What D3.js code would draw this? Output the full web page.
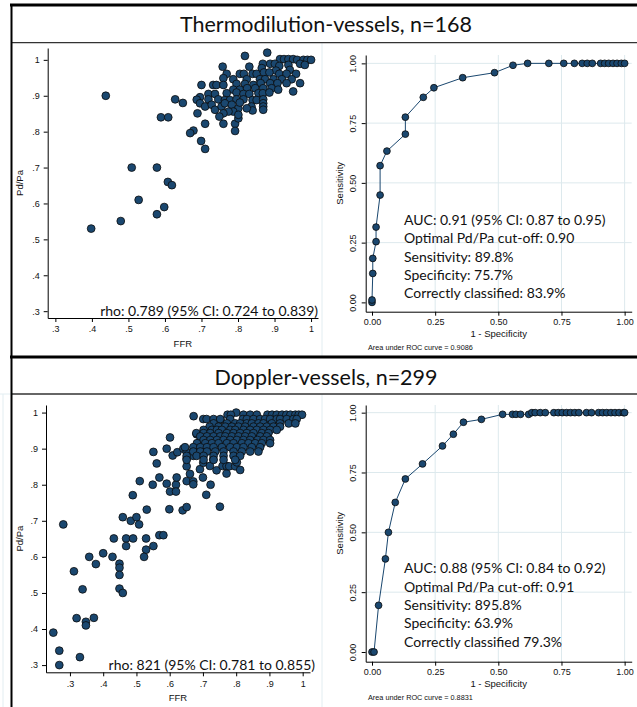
<!DOCTYPE html>
<html>
<head>
<meta charset="utf-8">
<script src="https://cdn.jsdelivr.net/npm/d3@7"></script>
<style>
  html, body { margin: 0; padding: 0; background: #fff; }
  svg { display: block; }
  .tick text { font-family: "Liberation Sans", Arial, sans-serif; font-size: 9px; fill: #111; }
  .axis-title { font-family: "Liberation Sans", Arial, sans-serif; font-size: 9.5px; fill: #111; }
  .note { font-family: Lato, "Open Sans", sans-serif; font-size: 14px; fill: #111; }
  .head { font-family: Lato, "Open Sans", sans-serif; font-size: 21.5px; fill: #111; }
</style>
</head>
<body>
<svg id="chart" width="637" height="707"></svg>
<script>
// ---- Thermodilution cohort: FFR vs Pd/Pa ----
const thermoFFR = [
  0.398,0.438,0.479,0.509,0.528,0.578,0.578,0.598,0.608,0.619,0.589,0.609,0.628,0.649,0.699,0.710,
  0.819,0.880,0.758,
  0.915,0.926,0.938,0.951,0.962,0.979,0.990,1.000,
  0.868,0.888,0.901,0.913,0.938,0.970,
  0.831,0.865,0.904,0.942,0.983,
  0.769,0.805,0.816,0.840,0.851,0.871,0.886,0.913,0.933,0.959,
  0.760,0.787,0.824,0.860,0.874,0.897,0.920,0.947,
  0.862,0.888,0.908,0.933,0.970,
  0.700,0.732,0.741,0.760,0.796,0.819,0.842,
  0.787,0.805,0.825,0.847,0.869,0.892,0.910,0.951,
  0.719,0.737,0.769,0.796,0.815,0.831,0.856,0.868,0.886,
  0.696,0.719,0.746,0.764,0.778,0.796,0.815,0.840,0.851,0.869,0.869,0.869,0.869,
  0.687,0.696,0.710,0.728,0.737,0.755,0.764,0.783,0.801,0.787,0.774,0.760,0.749,0.805,0.837,0.840,0.824,
  0.689,0.710,0.760,0.792,0.792,0.801,0.801,
  0.678,0.669
];
const thermoPdPa = [
  0.530,0.900,0.551,0.700,0.610,0.700,0.570,0.590,0.660,0.651,0.840,0.840,0.890,0.880,0.774,0.752,
  1.011,1.020,0.981,
  1.002,1.002,1.002,1.002,1.000,1.000,1.000,1.000,
  0.989,0.989,0.989,0.983,0.986,0.989,
  0.981,0.977,0.970,0.972,0.986,
  0.961,0.961,0.961,0.961,0.961,0.965,0.965,0.961,0.961,0.961,
  0.949,0.946,0.946,0.946,0.946,0.946,0.946,0.946,
  0.935,0.935,0.935,0.935,0.935,
  0.930,0.930,0.930,0.930,0.933,0.933,0.930,
  0.917,0.917,0.921,0.921,0.921,0.921,0.917,0.912,
  0.905,0.905,0.907,0.909,0.905,0.905,0.907,0.907,0.909,
  0.896,0.890,0.890,0.888,0.888,0.890,0.890,0.888,0.888,0.890,0.879,0.870,0.861,
  0.889,0.879,0.870,0.875,0.861,0.870,0.879,0.875,0.865,0.856,0.856,0.851,0.842,0.881,0.870,0.859,0.865,
  0.851,0.822,0.822,0.822,0.802,0.837,0.847,
  0.803,0.796
];

// ---- Doppler cohort: FFR vs Pd/Pa ----
const dopplerFFR = [
  0.250,0.268,0.268,0.280,0.330,0.312,0.338,0.320,0.348,0.348,0.372,0.358,0.378,0.400,0.428,0.432,
  0.449,0.449,0.449,0.449,0.459,0.459,0.469,0.469,0.483,0.490,0.489,0.500,0.508,0.510,0.529,0.529,
  0.531,0.523,0.551,0.549,0.551,0.561,0.569,0.569,0.581,0.591,0.591,0.599,0.601,0.601,0.609,0.619,
  0.619,0.621,0.623,0.639,0.641,0.651,0.651,0.651,0.651,0.651,0.661,0.671,0.671,0.672,0.671,0.681,
  0.691,0.691,0.690,0.700,0.701,0.701,0.711,0.710,0.721,0.723,0.731,0.741,0.751,0.753,0.759,0.771,
  0.771,0.779,0.797,0.802,0.812,
  0.800,0.774,0.784,0.822,0.842,0.862,0.894,0.908,0.922,0.938,0.951,0.963,0.978,0.988,0.998,
  0.732,0.752,0.782,0.820,0.832,0.852,0.872,0.887,0.902,0.922,0.932,0.952,0.972,0.982,
  0.732,0.772,0.797,0.812,0.832,0.847,0.867,0.882,0.907,0.932,0.958,0.978,
  0.720,0.747,0.767,0.787,0.807,0.827,0.852,0.872,0.892,0.912,0.932,
  0.702,0.727,0.742,0.757,0.782,0.797,0.822,0.842,0.862,0.882,0.902,0.922,
  0.680,0.702,0.722,0.747,0.772,0.792,0.812,0.832,0.852,0.877,0.897,
  0.692,0.712,0.732,0.752,0.767,0.787,0.807,0.827,0.847,0.872,0.892,
  0.702,0.722,0.742,0.762,0.782,0.802,0.822,0.842,0.864,0.882,0.902,
  0.682,0.707,0.727,0.747,0.772,0.792,0.817,0.837,0.857,0.877,0.902,
  0.646,0.671,0.692,0.712,0.732,0.757,0.782,0.802,0.822,0.847,0.872,
  0.671,0.692,0.712,0.737,0.762,0.792,0.817,0.842,0.867,
  0.651,0.681,0.702,0.732,0.762,0.792,0.812,
  0.651,0.702,0.732,0.762,0.797
];
const dopplerPdPa = [
  0.390,0.340,0.300,0.690,0.322,0.560,0.510,0.430,0.420,0.410,0.431,0.600,0.580,0.610,0.600,0.651,
  0.581,0.570,0.550,0.512,0.500,0.710,0.651,0.630,0.700,0.651,0.771,0.710,0.690,0.810,0.651,0.620,
  0.731,0.600,0.630,0.800,0.891,0.859,0.820,0.660,0.660,0.900,0.803,0.732,0.781,0.931,0.881,0.800,
  0.781,0.820,0.890,0.729,0.900,0.738,0.890,0.873,0.851,0.810,0.830,0.809,0.801,0.990,0.880,0.940,
  0.843,0.920,0.890,0.820,0.861,0.982,0.982,0.772,0.852,0.800,0.870,0.840,0.739,0.980,0.852,0.831,
  0.852,0.851,0.851,0.862,0.841,
  1.000,0.994,0.994,0.994,0.994,0.994,0.994,0.994,0.994,0.994,0.994,0.994,0.994,0.994,0.994,
  0.982,0.982,0.982,0.982,0.982,0.982,0.982,0.982,0.982,0.982,0.982,0.982,0.982,0.982,
  0.970,0.970,0.970,0.970,0.970,0.970,0.970,0.970,0.970,0.970,0.970,0.970,
  0.961,0.961,0.961,0.961,0.961,0.961,0.961,0.961,0.961,0.961,0.961,
  0.952,0.952,0.952,0.952,0.952,0.952,0.952,0.952,0.952,0.952,0.952,0.952,
  0.943,0.943,0.943,0.943,0.943,0.943,0.943,0.943,0.943,0.943,0.943,
  0.934,0.934,0.934,0.934,0.934,0.934,0.934,0.934,0.934,0.934,0.934,
  0.924,0.924,0.924,0.924,0.924,0.924,0.924,0.924,0.924,0.924,0.924,
  0.915,0.915,0.915,0.915,0.915,0.915,0.915,0.915,0.915,0.915,0.915,
  0.904,0.904,0.904,0.904,0.904,0.904,0.904,0.904,0.904,0.904,0.904,
  0.892,0.892,0.892,0.892,0.892,0.892,0.892,0.892,0.892,
  0.880,0.880,0.880,0.880,0.880,0.880,0.880,
  0.869,0.869,0.869,0.869,0.869
];

// ---- ROC curves (1 - specificity, sensitivity) ----
const thermoRocFpr = [0,0,0.003,0.003,0.016,0.016,0.032,0.032,0.059,0.132,0.132,0.203,0.245,0.359,0.485,0.558,
  0.616,0.700,0.759,0.801,0.832,0.852,0.872,0.905,0.921,0.937,0.954,0.970,0.987,1];
const thermoRocTpr = [0,0.010,0.121,0.184,0.254,0.315,0.449,0.572,0.633,0.704,0.775,0.858,0.898,0.940,0.961,0.992,
  1,1,1,1,1,1,1,1,1,1,1,1,1,1];
const dopplerRocFpr = [0,0.008,0.026,0.053,0.065,0.092,0.132,0.200,0.279,0.322,0.362,0.433,0.517,0.556,0.570,0.588,0.620,
  0.633,0.646,0.666,0.686,0.720,0.737,0.753,0.770,0.786,0.803,0.819,0.849,0.869,0.897,0.913,0.929,0.946,0.962,0.978,0.995,1];
const dopplerRocTpr = [0,0,0.195,0.389,0.500,0.625,0.723,0.786,0.861,0.910,0.960,0.972,0.993,0.993,0.993,0.993,0.993,
  1,1,1,1,1,1,1,1,1,1,1,1,1,1,1,1,1,1,1,1,1];

// ---- Tick labels and texts ----
const scatterTicks = [0.3,0.4,0.5,0.6,0.7,0.8,0.9,1];
const rocTicks = [0,0.25,0.5,0.75,1];
const thermoTitle = "Thermodilution-vessels, n=168";
const dopplerTitle = "Doppler-vessels, n=299";
const thermoRho = "rho: 0.789 (95% CI: 0.724 to 0.839)";
const dopplerRho = "rho: 821 (95% CI: 0.781 to 0.855)";
const thermoRocNotes = ["AUC: 0.91 (95% CI: 0.87 to 0.95)", "Optimal Pd/Pa cut-off: 0.90",
  "Sensitivity: 89.8%", "Specificity: 75.7%", "Correctly classified: 83.9%"];
const dopplerRocNotes = ["AUC: 0.88 (95% CI: 0.84 to 0.92)", "Optimal Pd/Pa cut-off: 0.91",
  "Sensitivity: 895.8%", "Specificity: 63.9%", "Correctly classified 79.3%"];
const thermoAuc = "Area under ROC curve = 0.9086";
const dopplerAuc = "Area under ROC curve = 0.8831";

const NAVY = "#1a476f";
const svg = d3.select("#chart");
const fmtScatter = d => d === 1 ? "1" : d3.format(".1f")(d).replace(/^0/, "");
const fmtRoc = d3.format(".2f");

// faint frame lines of the individual graph regions
const faint = svg.append("g").attr("stroke", "#e2edf1").attr("stroke-width", 1);
[[322,43,322,356],[322,356,322,366],[322,366,637,366],[322,394,322,707],[3,394,3,707],[0,394,11,394]]
  .forEach(([x1,y1,x2,y2]) => faint.append("line").attr("x1",x1).attr("y1",y1).attr("x2",x2).attr("y2",y2));

function styleAxis(g) {
  g.select(".domain").attr("stroke", "#000").attr("stroke-width", 1);
  g.selectAll(".tick line").attr("stroke", "#000").attr("stroke-width", 1);
}

function scatterPanel(cfg) {
  const x = d3.scaleLinear().domain(cfg.xDomain).range([cfg.left, cfg.right]);
  const y = d3.scaleLinear().domain(cfg.yDomain).range([cfg.bottom, cfg.top]);
  const g = svg.append("g");

  g.append("g").attr("transform", `translate(0,${cfg.bottom})`)
    .call(d3.axisBottom(x).tickValues(scatterTicks).tickFormat(fmtScatter).tickSize(4).tickSizeOuter(0).tickPadding(4))
    .call(styleAxis);
  g.append("g").attr("transform", `translate(${cfg.left},0)`)
    .call(d3.axisLeft(y).tickValues(scatterTicks).tickFormat(fmtScatter).tickSize(4).tickSizeOuter(0).tickPadding(4))
    .call(styleAxis);
  g.selectAll(".tick text").attr("font-family", null).attr("font-size", null);

  const pts = cfg.ffr.map((f, i) => [f, cfg.pd[i]]);
  g.append("g").selectAll("circle").data(pts).join("circle")
    .attr("cx", d => x(d[0])).attr("cy", d => y(d[1])).attr("r", 3.9)
    .attr("fill", NAVY).attr("stroke", "#0b0b0b").attr("stroke-width", 0.8);

  g.append("text").attr("class", "note").attr("text-anchor", "end")
    .attr("x", cfg.rhoX).attr("y", cfg.bottom - 2.5).text(cfg.rho);

  g.append("text").attr("class", "axis-title").attr("text-anchor", "middle")
    .attr("x", (cfg.left + cfg.right) / 2).attr("y", cfg.bottom + 29).text("FFR");
  g.append("text").attr("class", "axis-title").attr("text-anchor", "middle")
    .attr("transform", `translate(23,${(cfg.top + cfg.bottom) / 2}) rotate(-90)`).text("Pd/Pa");
}

function rocPanel(cfg) {
  const x = d3.scaleLinear().domain([-0.025, 1.028]).range([cfg.left, cfg.right]);
  const y = d3.scaleLinear().domain(cfg.yDomain).range([cfg.bottom, cfg.top]);
  const g = svg.append("g");

  // grid
  const grid = g.append("g").attr("stroke", "#dde9ed").attr("stroke-width", 1);
  rocTicks.slice(1).forEach(t => {
    grid.append("line").attr("x1", x(t)).attr("x2", x(t)).attr("y1", cfg.top).attr("y2", cfg.bottom);
    grid.append("line").attr("x1", cfg.left).attr("x2", cfg.right).attr("y1", y(t)).attr("y2", y(t));
  });

  g.append("g").attr("transform", `translate(0,${cfg.bottom})`)
    .call(d3.axisBottom(x).tickValues(rocTicks).tickFormat(fmtRoc).tickSize(4).tickSizeOuter(0).tickPadding(3))
    .call(styleAxis);
  const ya = g.append("g").attr("transform", `translate(${cfg.left},0)`)
    .call(d3.axisLeft(y).tickValues(rocTicks).tickFormat(fmtRoc).tickSize(4).tickSizeOuter(0))
    .call(styleAxis);
  ya.selectAll(".tick text").attr("x", 0).attr("dy", 0).attr("text-anchor", "middle")
    .attr("transform", "translate(-9.5,0) rotate(-90)");
  g.selectAll(".tick text").attr("font-family", null).attr("font-size", null);

  const pts = cfg.fpr.map((f, i) => [f, cfg.tpr[i]]);
  g.append("path").datum(pts)
    .attr("d", d3.line().x(d => x(d[0])).y(d => y(d[1])))
    .attr("fill", "none").attr("stroke", NAVY).attr("stroke-width", 1);
  g.append("g").selectAll("circle").data(pts).join("circle")
    .attr("cx", d => x(d[0])).attr("cy", d => y(d[1])).attr("r", 3.4)
    .attr("fill", NAVY).attr("stroke", "#0b0b0b").attr("stroke-width", 0.8);

  g.append("g").selectAll("text").data(cfg.notes).join("text")
    .attr("class", "note").attr("x", 404).attr("y", (d, i) => cfg.noteY + i * 18.3).text(d => d);

  g.append("text").attr("class", "axis-title").attr("text-anchor", "middle")
    .attr("x", (cfg.left + cfg.right) / 2).attr("y", cfg.bottom + 25.5).text("1 - Specificity");
  g.append("text").attr("class", "axis-title").attr("text-anchor", "middle")
    .attr("transform", `translate(343,${(cfg.top + cfg.bottom) / 2}) rotate(-90)`).text("Sensitivity");
  g.append("text").attr("font-family", "Liberation Sans, Arial, sans-serif").attr("font-size", 7.3)
    .attr("fill", "#111").attr("x", 368).attr("y", cfg.bottom + 38).text(cfg.auc);
}

scatterPanel({ left: 47.7, right: 318, top: 48, bottom: 318, xDomain: [0.279, 1.019], yDomain: [0.281, 1.033],
  ffr: thermoFFR, pd: thermoPdPa, rho: thermoRho, rhoX: 318 });
scatterPanel({ left: 46, right: 310, top: 405, bottom: 672.3, xDomain: [0.228, 1.022], yDomain: [0.28, 1.021],
  ffr: dopplerFFR, pd: dopplerPdPa, rho: dopplerRho, rhoX: 315 });
rocPanel({ left: 365.7, right: 631.7, top: 55, bottom: 311.7, yDomain: [-0.039, 1.035],
  fpr: thermoRocFpr, tpr: thermoRocTpr, notes: thermoRocNotes, noteY: 225, auc: thermoAuc });
rocPanel({ left: 365.7, right: 631.7, top: 405, bottom: 661.7, yDomain: [-0.0405, 1.032],
  fpr: dopplerRocFpr, tpr: dopplerRocTpr, notes: dopplerRocNotes, noteY: 573.3, auc: dopplerAuc });

// section header strips and outer frame
const frame = svg.append("g");
frame.append("rect").attr("x", 11).attr("y", 6).attr("width", 626).attr("height", 36).attr("fill", "#fff");
frame.append("rect").attr("x", 11).attr("y", 358).attr("width", 626).attr("height", 35).attr("fill", "#fff");
frame.append("line").attr("x1", 10).attr("x2", 637).attr("y1", 5).attr("y2", 5).attr("stroke", "#000").attr("stroke-width", 2.8);
frame.append("line").attr("x1", 11).attr("x2", 637).attr("y1", 42.7).attr("y2", 42.7).attr("stroke", "#333").attr("stroke-width", 1.3);
frame.append("line").attr("x1", 10).attr("x2", 637).attr("y1", 357).attr("y2", 357).attr("stroke", "#000").attr("stroke-width", 2.8);
frame.append("line").attr("x1", 11).attr("x2", 637).attr("y1", 394).attr("y2", 394).attr("stroke", "#333").attr("stroke-width", 1.3);
frame.append("line").attr("x1", 11.5).attr("x2", 11.5).attr("y1", 4).attr("y2", 707).attr("stroke", "#000").attr("stroke-width", 2);
frame.append("text").attr("class", "head").attr("text-anchor", "middle").attr("x", 326).attr("y", 32).text(thermoTitle);
frame.append("text").attr("class", "head").attr("text-anchor", "middle").attr("x", 326).attr("y", 385).text(dopplerTitle);
</script>
</body>
</html>
